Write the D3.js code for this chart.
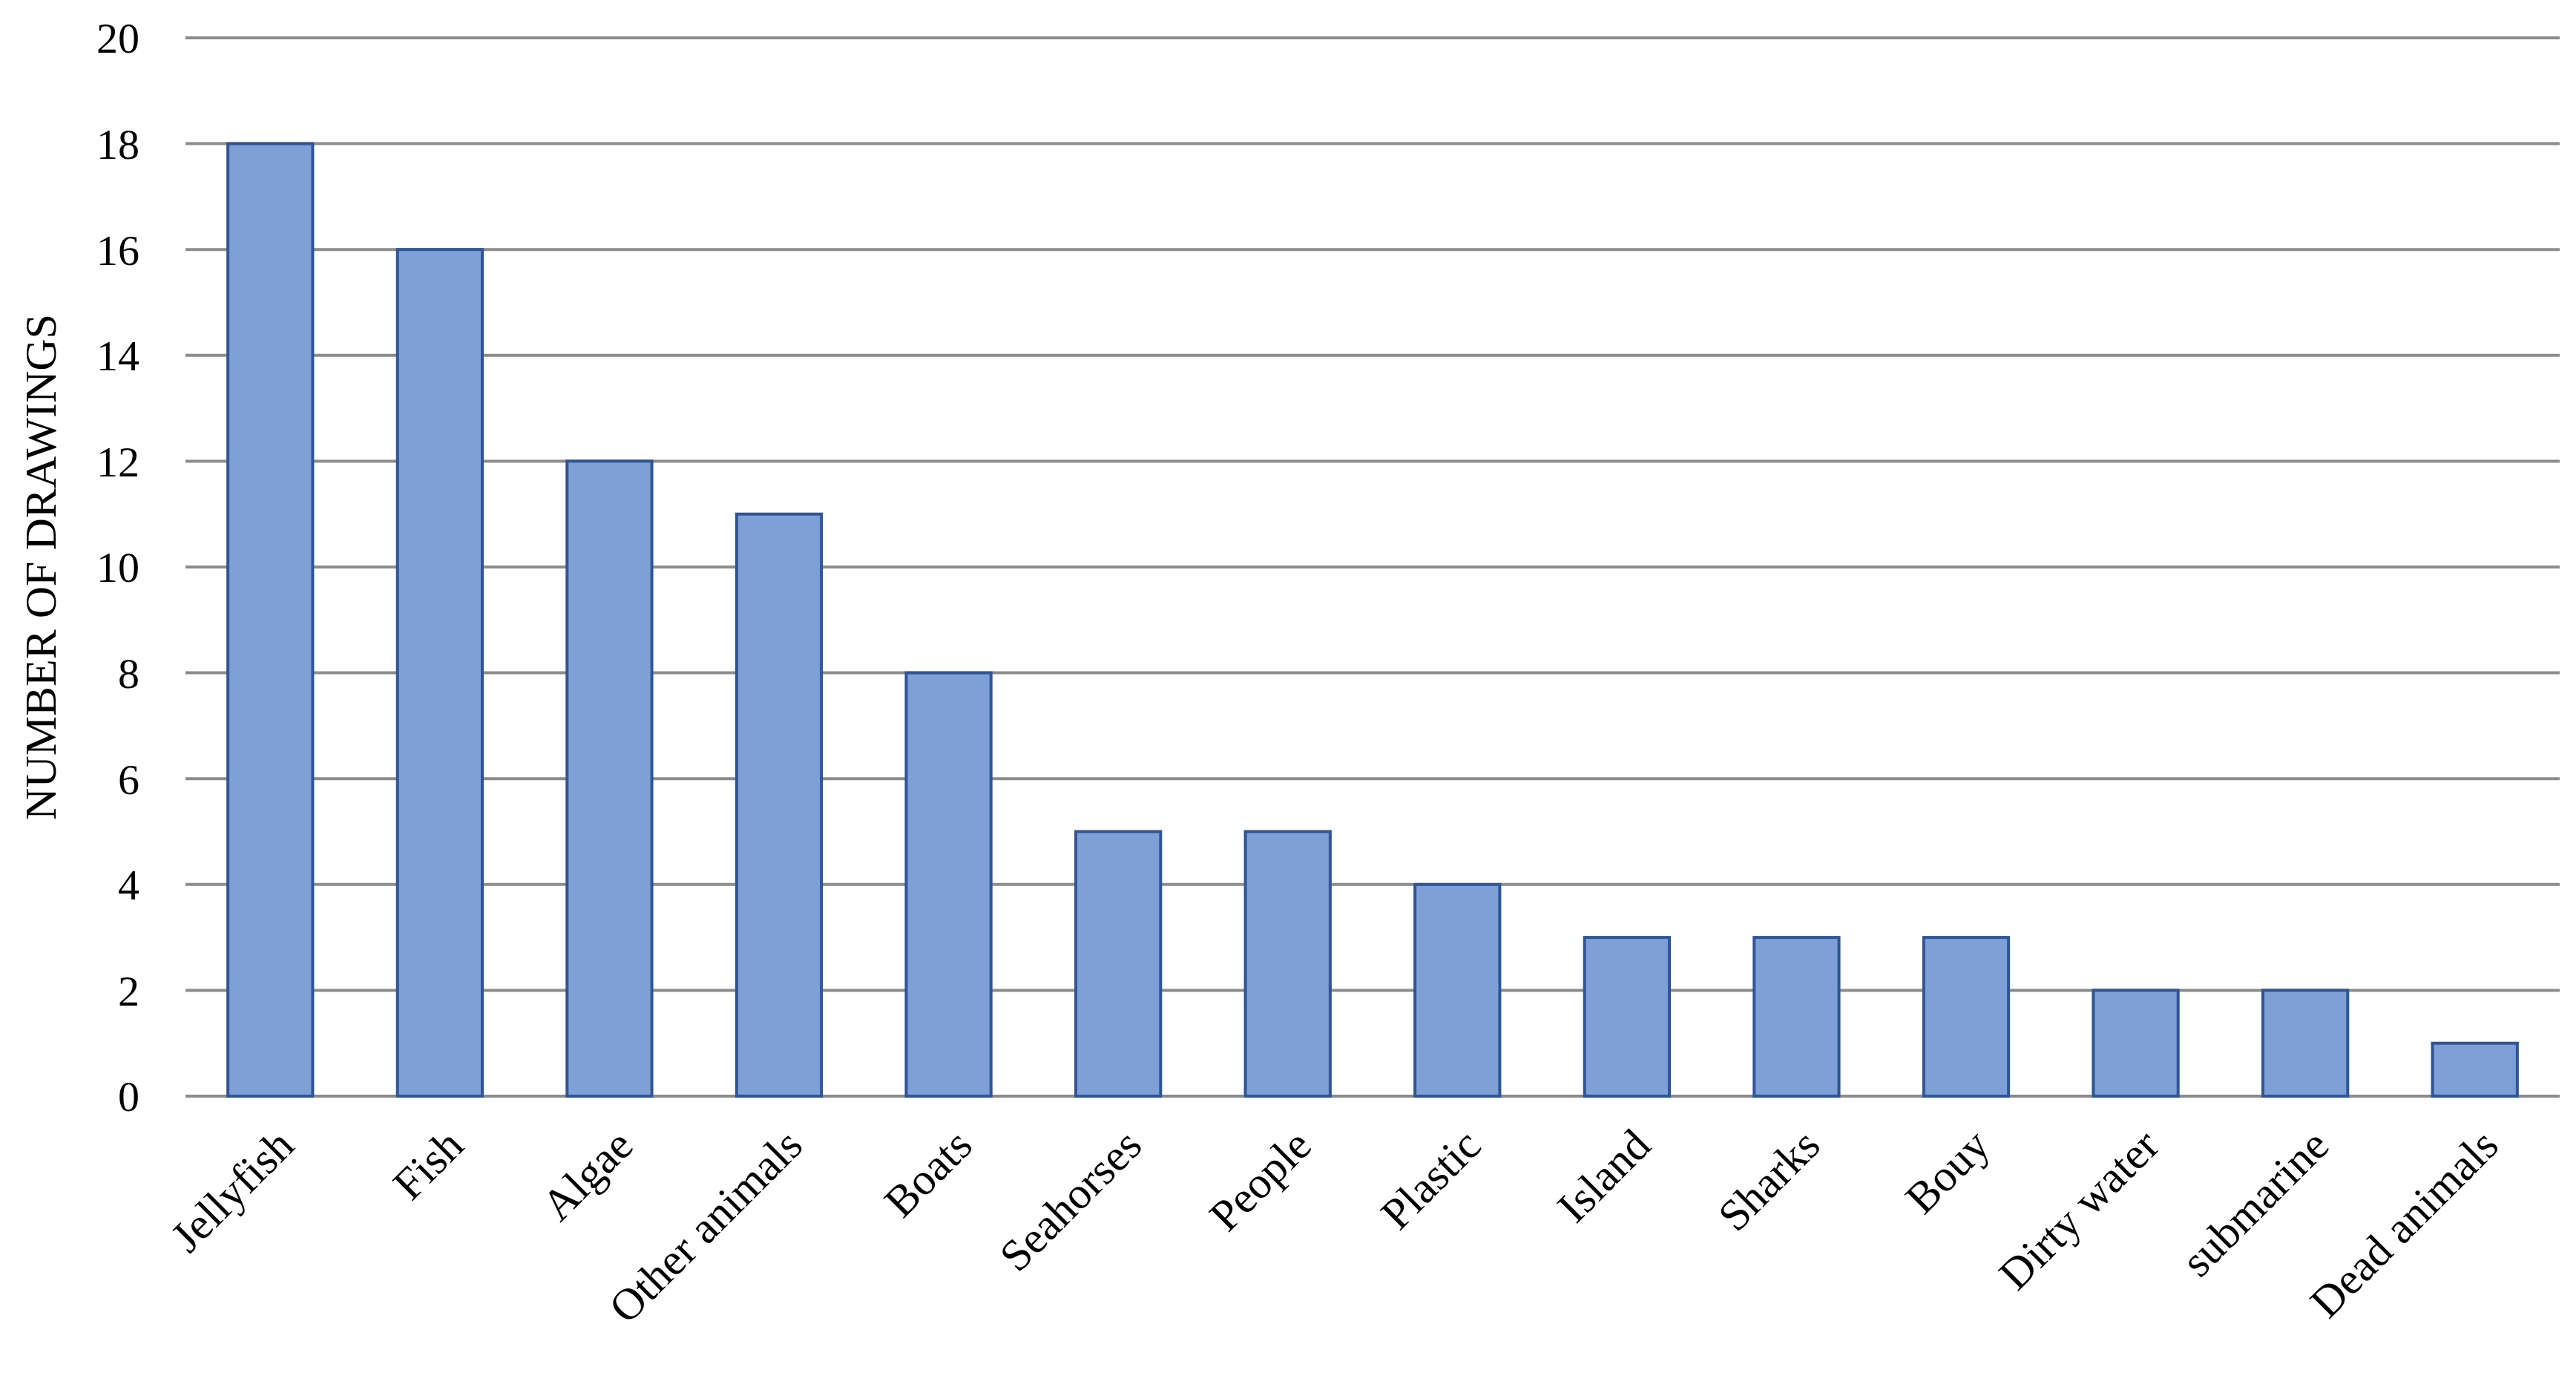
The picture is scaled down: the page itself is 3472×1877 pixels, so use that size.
<!DOCTYPE html>
<html><head><meta charset="utf-8">
<script src="https://cdn.jsdelivr.net/npm/d3@7"></script>
<style>body{margin:0;background:#fff}svg{display:block}</style>
</head><body><svg width="3472" height="1877"></svg>
<script>
const categories = ["Jellyfish","Fish","Algae","Other animals","Boats","Seahorses","People","Plastic","Island","Sharks","Bouy","Dirty water","submarine","Dead animals"];
const counts = [18,16,12,11,8,5,5,4,3,3,3,2,2,1];
const yTicks = [0,2,4,6,8,10,12,14,16,18,20];

const svg = d3.select("svg");
const font = "'Liberation Serif', 'Times New Roman', serif";
const plotLeft = 250, plotRight = 3450, plotTop = 51, plotBottom = 1477;

const x = d3.scaleBand().domain(categories).range([plotLeft, plotRight]).paddingInner(0.5).paddingOuter(0.25);
const y = d3.scaleLinear().domain([0, 20]).range([plotBottom, plotTop]);

// gridlines
svg.append('g').selectAll('line').data(yTicks).enter().append('line')
  .attr('x1', plotLeft).attr('x2', plotRight)
  .attr('y1', d => y(d)).attr('y2', d => y(d))
  .attr('stroke', '#8c8c8c').attr('stroke-width', 4);

// y tick labels
svg.append('g').selectAll('text').data(yTicks).enter().append('text')
  .attr('x', 188).attr('y', d => y(d)).attr('dy', '0.35em')
  .attr('text-anchor', 'end').attr('font-family', font).attr('font-size', 58)
  .text(d => d);

// bars
svg.append('g').selectAll('rect').data(categories).enter().append('rect')
  .attr('x', d => x(d)).attr('width', x.bandwidth())
  .attr('y', (d, i) => y(counts[i])).attr('height', (d, i) => y(0) - y(counts[i]))
  .attr('fill', '#7f9fd7').attr('stroke', '#2f5597').attr('stroke-width', 4);

// category labels
svg.append('g').selectAll('text').data(categories).enter().append('text')
  .attr('transform', d => `translate(${x(d) + x.bandwidth() / 2 + 20},${plotBottom + 55}) rotate(-45)`)
  .attr('text-anchor', 'end').attr('dy', '0.35em')
  .attr('font-family', font).attr('font-size', 60)
  .text(d => d);

// y title
svg.append('text')
  .attr('transform', `translate(75,${(plotTop + plotBottom) / 2}) rotate(-90)`)
  .attr('text-anchor', 'middle').attr('font-family', font).attr('font-size', 60)
  .text('NUMBER OF DRAWINGS');
</script></body></html>
